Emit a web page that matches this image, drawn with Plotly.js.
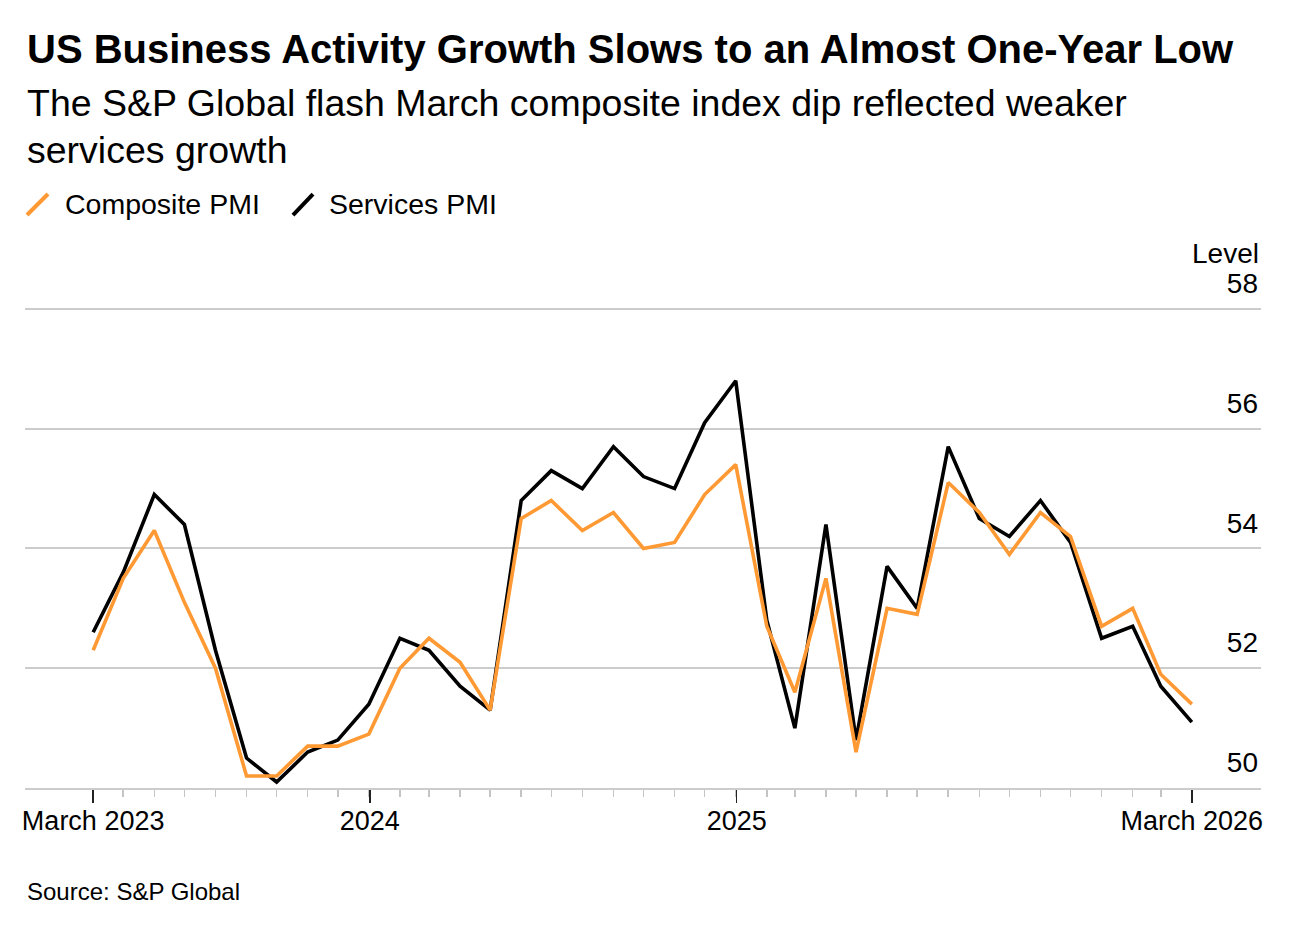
<!DOCTYPE html>
<html>
<head>
<meta charset="utf-8">
<script src="https://cdn.plot.ly/plotly-3.0.1.min.js"></script>
<style>
  html, body { margin: 0; padding: 0; background: #fff; }
  #chart { width: 1316px; height: 928px; }
</style>
</head>
<body>
<div id="chart"></div>
<script>
// Monthly observations (month-end dates), March 2023 – March 2026
const months = [
  "2023-03-31","2023-04-30","2023-05-31","2023-06-30","2023-07-31","2023-08-31",
  "2023-09-30","2023-10-31","2023-11-30","2023-12-31","2024-01-31","2024-02-29",
  "2024-03-31","2024-04-30","2024-05-31","2024-06-30","2024-07-31","2024-08-31",
  "2024-09-30","2024-10-31","2024-11-30","2024-12-31","2025-01-31","2025-02-28",
  "2025-03-31","2025-04-30","2025-05-31","2025-06-30","2025-07-31","2025-08-31",
  "2025-09-30","2025-10-31","2025-11-30","2025-12-31","2026-01-31","2026-02-28",
  "2026-03-31"
];

const compositePMI = [
  52.3, 53.5, 54.3, 53.1, 52.0, 50.2, 50.2, 50.7, 50.7, 50.9,
  52.0, 52.5, 52.1, 51.3, 54.5, 54.8, 54.3, 54.6, 54.0, 54.1,
  54.9, 55.4, 52.7, 51.6, 53.5, 50.6, 53.0, 52.9, 55.1, 54.6,
  53.9, 54.6, 54.2, 52.7, 53.0, 51.9, 51.4
];

const servicesPMI = [
  52.6, 53.6, 54.9, 54.4, 52.3, 50.5, 50.1, 50.6, 50.8, 51.4,
  52.5, 52.3, 51.7, 51.3, 54.8, 55.3, 55.0, 55.7, 55.2, 55.0,
  56.1, 56.8, 52.8, 51.0, 54.4, 50.8, 53.7, 53.0, 55.7, 54.5,
  54.2, 54.8, 54.1, 52.5, 52.7, 51.7, 51.1
];

const xTickVals = ["2023-03-31", "2024-01-01", "2025-01-01", "2026-03-31"];
const xTickText = ["March 2023", "2024", "2025", "March 2026"];
const yTickVals = [50, 52, 54, 56, 58];

const seriesNames = ["Composite PMI", "Services PMI"];
const ORANGE = "#ff9933";
const BLACK = "#000000";
const FONT = "Liberation Sans, Arial, sans-serif";

const traces = [
  {
    x: months, y: servicesPMI, type: "scatter", mode: "lines",
    name: seriesNames[1], line: { color: BLACK, width: 3.6 },
    showlegend: false, hoverinfo: "skip"
  },
  {
    x: months, y: compositePMI, type: "scatter", mode: "lines",
    name: seriesNames[0], line: { color: ORANGE, width: 3.6 },
    showlegend: false, hoverinfo: "skip"
  }
];

const layout = {
  width: 1316, height: 928,
  margin: { l: 25, r: 55, t: 255, b: 140, pad: 0 },
  paper_bgcolor: "#ffffff", plot_bgcolor: "#ffffff",
  font: { family: FONT, color: "#000000", size: 26 },
  showlegend: false,
  xaxis: {
    type: "date",
    range: ["2023-01-22", "2026-06-08"],
    tickmode: "array", tickvals: xTickVals, ticktext: xTickText,
    ticks: "outside", ticklen: 13, tickwidth: 1.5, tickcolor: "#222222",
    ticklabelstandoff: -5,
    tickfont: { family: FONT, size: 27, color: "#000000" },
    showgrid: false, zeroline: false,
    showline: true, linecolor: "#cccccc", linewidth: 2,
    minor: {
      tickmode: "array", tickvals: months,
      ticks: "outside", ticklen: 7, tickwidth: 1.5, tickcolor: "#c4c4c4",
      showgrid: false
    },
    fixedrange: true
  },
  yaxis: {
    side: "right",
    range: [50, 58.9],
    tickmode: "array", tickvals: yTickVals,
    ticklabelposition: "inside top",
    ticklabelshift: -6,
    ticks: "",
    tickfont: { family: FONT, size: 28, color: "#000000" },
    showgrid: true, gridcolor: "#cccccc", gridwidth: 2,
    zeroline: false, showline: false,
    fixedrange: true
  },
  shapes: [
    // legend glyphs (diagonal strokes)
    { type: "line", xref: "paper", yref: "paper", x0: 0.0016, y0: 1.075, x1: 0.0186, y1: 1.1144,
      line: { color: ORANGE, width: 4 } },
    { type: "line", xref: "paper", yref: "paper", x0: 0.2168, y0: 1.075, x1: 0.233, y1: 1.1144,
      line: { color: BLACK, width: 4 } }
  ],
  annotations: [
    { text: "US Business Activity Growth Slows to an Almost One-Year Low",
      xref: "paper", yref: "paper", x: 0, y: 1.387, xanchor: "left", yanchor: "middle",
      showarrow: false, font: { family: FONT, size: 40, weight: 700, color: "#000" } },
    { text: "The S&P Global flash March composite index dip reflected weaker",
      xref: "paper", yref: "paper", x: 0, y: 1.285, xanchor: "left", yanchor: "middle",
      showarrow: false, font: { family: FONT, size: 37.5, color: "#000" } },
    { text: "services growth",
      xref: "paper", yref: "paper", x: 0, y: 1.197, xanchor: "left", yanchor: "middle",
      showarrow: false, font: { family: FONT, size: 37.5, color: "#000" } },
    { text: seriesNames[0],
      xref: "paper", yref: "paper", x: 0.0307, y: 1.0957, xanchor: "left", yanchor: "middle",
      showarrow: false, font: { family: FONT, size: 28.5, color: "#000" } },
    { text: seriesNames[1],
      xref: "paper", yref: "paper", x: 0.2443, y: 1.0957, xanchor: "left", yanchor: "middle",
      showarrow: false, font: { family: FONT, size: 28.5, color: "#000" } },
    { text: "Level",
      xref: "paper", yref: "paper", x: 1, y: 1.003, xanchor: "right", yanchor: "middle",
      showarrow: false, font: { family: FONT, size: 28, color: "#000" } },
    { text: "Source: S&P Global",
      xref: "paper", yref: "paper", x: 0, y: -0.1938, xanchor: "left", yanchor: "middle",
      showarrow: false, font: { family: FONT, size: 24, color: "#000" } }
  ]
};

Plotly.newPlot("chart", traces, layout, { staticPlot: true, displayModeBar: false });
</script>
</body>
</html>
